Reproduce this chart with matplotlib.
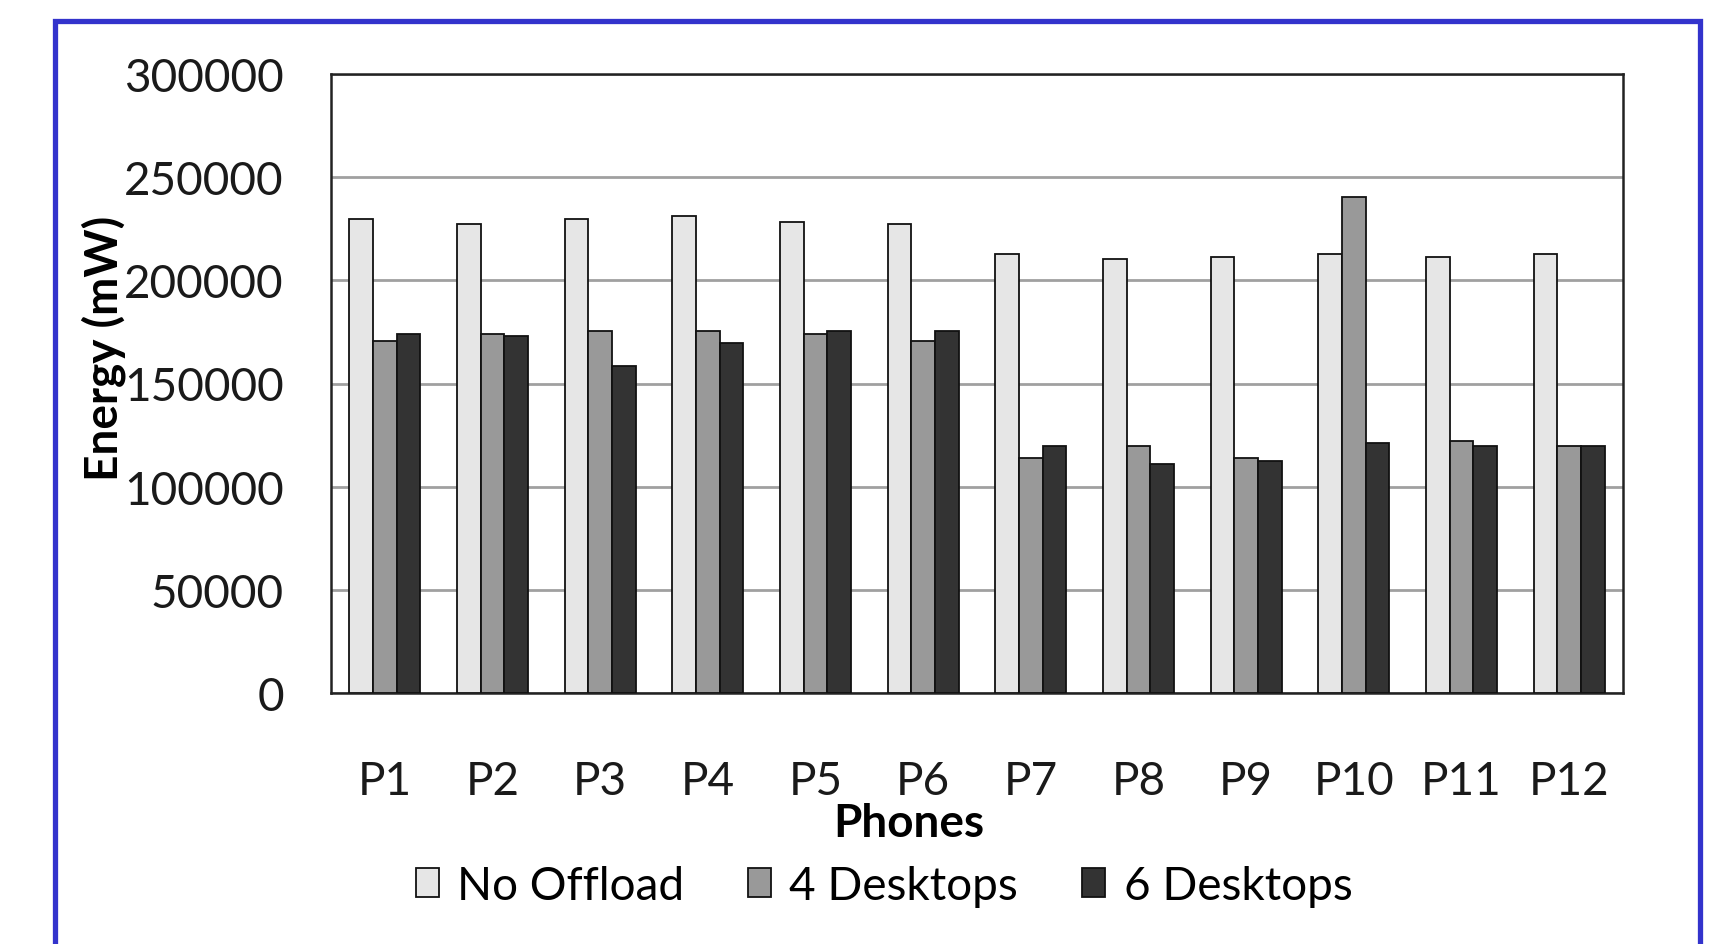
import matplotlib
matplotlib.use("Agg")
import matplotlib.pyplot as plt
import numpy as np
from matplotlib.patches import Rectangle, Patch

phones = ["P1", "P2", "P3", "P4", "P5", "P6", "P7", "P8", "P9", "P10", "P11", "P12"]
no_offload = [229900, 227500, 229900, 231100, 228500, 227500, 213000, 210300, 211500, 213000, 211500, 212900]
desktops4 = [170600, 174200, 175600, 175600, 174200, 170600, 113800, 119700, 113800, 240600, 122300, 119700]
desktops6 = [174200, 173000, 158500, 169400, 175600, 175600, 119700, 111200, 112600, 121100, 119700, 119700]

series = ["No Offload", "4 Desktops", "6 Desktops"]
colors = ["#e6e6e6", "#999999", "#333333"]

plt.rcParams['font.family'] = ['Lato', 'DejaVu Sans']
fs = 33

W, H = 1718, 945
fig = plt.figure(figsize=(W / 100, H / 100), dpi=100)
ax = fig.add_axes([331 / W, 1 - 694 / H, (1623 - 331) / W, (694 - 75) / H])

x = np.arange(len(phones))
bw = 0.22
for k, vals in enumerate([no_offload, desktops4, desktops6]):
    ax.bar(x + (k - 1) * bw, vals, bw, color=colors[k], edgecolor="#111111", linewidth=1.3, zorder=3)

ax.set_xlim(-0.5, len(phones) - 0.5)
ax.set_ylim(0, 300000)
ax.set_yticks(range(0, 300001, 50000))
ax.set_xticks(x)
ax.set_xticklabels(phones)
ax.yaxis.grid(True, color="#a0a0a0", linewidth=2, zorder=0)
ax.set_axisbelow(True)
for s in ax.spines.values():
    s.set_linewidth(1.8)
    s.set_color("#222222")
ax.tick_params(axis="both", length=0, labelsize=fs, colors="#1a1a1a")
ax.tick_params(axis="y", pad=34)
ax.tick_params(axis="x", pad=48)

fig.text(909 / W, 1 - 824 / H, "Phones", ha="center", va="center", fontsize=fs, fontweight="bold")
fig.text(104 / W, 1 - 348 / H, "Energy (mW)", ha="center", va="center", rotation=90,
         fontsize=fs, fontweight="bold")

handles = [Patch(facecolor=c, edgecolor="#111111", linewidth=1.3) for c in colors]
fig.legend(handles, series, loc="center", bbox_to_anchor=(884 / W, 1 - 887 / H), ncol=3,
           frameon=False, fontsize=fs, handlelength=0.5, handleheight=0.6,
           handletextpad=0.4, columnspacing=1.4)

# blue frame (bottom edge runs off the image)
fig.patches.append(Rectangle((54.5 / W, -0.1), (1700 - 54.5) / W, 1.1 - 21.5 / H,
                             transform=fig.transFigure, fill=False,
                             edgecolor="#3333cc", linewidth=3.8))

fig.savefig("out.png", dpi=100)
